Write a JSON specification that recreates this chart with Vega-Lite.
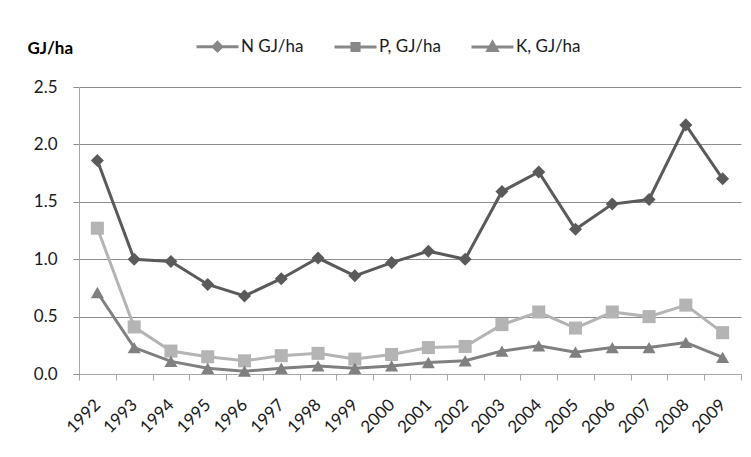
{
  "$schema": "https://vega.github.io/schema/vega-lite/v6.json",
  "width": 662,
  "height": 287,
  "autosize": "none",
  "padding": {"left": 79, "top": 87, "right": 10, "bottom": 83},
  "background": "white",
  "data": {
    "values": [
      {"year": "1992", "series": "N GJ/ha", "value": 1.86},
      {"year": "1993", "series": "N GJ/ha", "value": 1.0},
      {"year": "1994", "series": "N GJ/ha", "value": 0.98},
      {"year": "1995", "series": "N GJ/ha", "value": 0.78},
      {"year": "1996", "series": "N GJ/ha", "value": 0.68},
      {"year": "1997", "series": "N GJ/ha", "value": 0.83},
      {"year": "1998", "series": "N GJ/ha", "value": 1.01},
      {"year": "1999", "series": "N GJ/ha", "value": 0.855},
      {"year": "2000", "series": "N GJ/ha", "value": 0.97},
      {"year": "2001", "series": "N GJ/ha", "value": 1.07},
      {"year": "2002", "series": "N GJ/ha", "value": 1.0},
      {"year": "2003", "series": "N GJ/ha", "value": 1.59},
      {"year": "2004", "series": "N GJ/ha", "value": 1.76},
      {"year": "2005", "series": "N GJ/ha", "value": 1.26},
      {"year": "2006", "series": "N GJ/ha", "value": 1.48},
      {"year": "2007", "series": "N GJ/ha", "value": 1.52},
      {"year": "2008", "series": "N GJ/ha", "value": 2.17},
      {"year": "2009", "series": "N GJ/ha", "value": 1.7},
      {"year": "1992", "series": "P, GJ/ha", "value": 1.27},
      {"year": "1993", "series": "P, GJ/ha", "value": 0.41},
      {"year": "1994", "series": "P, GJ/ha", "value": 0.2},
      {"year": "1995", "series": "P, GJ/ha", "value": 0.15},
      {"year": "1996", "series": "P, GJ/ha", "value": 0.115},
      {"year": "1997", "series": "P, GJ/ha", "value": 0.16},
      {"year": "1998", "series": "P, GJ/ha", "value": 0.18},
      {"year": "1999", "series": "P, GJ/ha", "value": 0.13},
      {"year": "2000", "series": "P, GJ/ha", "value": 0.17},
      {"year": "2001", "series": "P, GJ/ha", "value": 0.23},
      {"year": "2002", "series": "P, GJ/ha", "value": 0.24},
      {"year": "2003", "series": "P, GJ/ha", "value": 0.43},
      {"year": "2004", "series": "P, GJ/ha", "value": 0.54},
      {"year": "2005", "series": "P, GJ/ha", "value": 0.4},
      {"year": "2006", "series": "P, GJ/ha", "value": 0.54},
      {"year": "2007", "series": "P, GJ/ha", "value": 0.5},
      {"year": "2008", "series": "P, GJ/ha", "value": 0.6},
      {"year": "2009", "series": "P, GJ/ha", "value": 0.36},
      {"year": "1992", "series": "K, GJ/ha", "value": 0.71},
      {"year": "1993", "series": "K, GJ/ha", "value": 0.23},
      {"year": "1994", "series": "K, GJ/ha", "value": 0.11},
      {"year": "1995", "series": "K, GJ/ha", "value": 0.05},
      {"year": "1996", "series": "K, GJ/ha", "value": 0.025},
      {"year": "1997", "series": "K, GJ/ha", "value": 0.05},
      {"year": "1998", "series": "K, GJ/ha", "value": 0.07},
      {"year": "1999", "series": "K, GJ/ha", "value": 0.05},
      {"year": "2000", "series": "K, GJ/ha", "value": 0.07},
      {"year": "2001", "series": "K, GJ/ha", "value": 0.1},
      {"year": "2002", "series": "K, GJ/ha", "value": 0.115},
      {"year": "2003", "series": "K, GJ/ha", "value": 0.2},
      {"year": "2004", "series": "K, GJ/ha", "value": 0.245},
      {"year": "2005", "series": "K, GJ/ha", "value": 0.19},
      {"year": "2006", "series": "K, GJ/ha", "value": 0.23},
      {"year": "2007", "series": "K, GJ/ha", "value": 0.23},
      {"year": "2008", "series": "K, GJ/ha", "value": 0.275},
      {"year": "2009", "series": "K, GJ/ha", "value": 0.145}
    ]
  },
  "encoding": {
    "x": {
      "field": "year",
      "type": "ordinal",
      "scale": {"type": "band", "paddingInner": 0, "paddingOuter": 0},
      "axis": {
        "title": null,
        "labelAngle": -45,
        "labelAlign": "right",
        "labelBaseline": "middle",
        "labelPadding": 22,
        "bandPosition": 0,
        "tickBand": "extent",
        "tickSize": 6,
        "grid": false,
        "labelFont": "Lato",
        "labelFontSize": 17,
        "labelColor": "#1a1a1a",
        "domainColor": "#a6a6a6",
        "tickColor": "#a6a6a6"
      }
    },
    "y": {
      "field": "value",
      "type": "quantitative",
      "scale": {"domain": [0, 2.5], "nice": false},
      "axis": {
        "values": [0, 0.5, 1, 1.5, 2, 2.5],
        "format": ".1f",
        "title": "GJ/ha",
        "titleAngle": 0,
        "titleX": -52,
        "titleY": -34,
        "titleAlign": "left",
        "titleBaseline": "alphabetic",
        "titleFont": "Lato",
        "titleFontSize": 17,
        "titleFontWeight": "bold",
        "titleColor": "#000000",
        "labelFont": "Lato",
        "labelFontSize": 17,
        "labelColor": "#1a1a1a",
        "labelPadding": 16,
        "tickSize": 6,
        "tickColor": "#8c8c8c",
        "domainColor": "#a6a6a6",
        "gridColor": "#8c8c8c",
        "gridWidth": 1
      }
    }
  },
  "layer": [
    {
      "mark": {"type": "line", "strokeWidth": 3},
      "encoding": {
        "color": {
          "field": "series",
          "type": "nominal",
          "scale": {
            "domain": ["N GJ/ha", "P, GJ/ha", "K, GJ/ha"],
            "range": ["#5a5a5a", "#b4b4b4", "#808080"]
          },
          "legend": null
        }
      }
    },
    {
      "mark": {"type": "point", "filled": true, "opacity": 1, "size": 170},
      "encoding": {
        "color": {
          "field": "series",
          "type": "nominal",
          "scale": {
            "domain": ["N GJ/ha", "P, GJ/ha", "K, GJ/ha"],
            "range": ["#5a5a5a", "#b4b4b4", "#808080"]
          },
          "legend": null
        },
        "shape": {
          "field": "series",
          "type": "nominal",
          "scale": {
            "domain": ["N GJ/ha", "P, GJ/ha", "K, GJ/ha"],
            "range": ["diamond", "square", "triangle-up"]
          },
          "legend": null
        }
      }
    },
    {
      "mark": {"type": "point", "filled": false, "opacity": 0, "strokeWidth": 3},
      "encoding": {
        "color": {
          "field": "series",
          "type": "nominal",
          "scale": {
            "domain": ["N GJ/ha", "P, GJ/ha", "K, GJ/ha"],
            "range": ["#5a5a5a", "#b4b4b4", "#808080"]
          },
          "legend": {
            "title": null,
            "orient": "none",
            "direction": "horizontal",
            "legendX": 116,
            "legendY": -63,
            "symbolSize": 1764,
            "symbolStrokeWidth": 3,
            "symbolOpacity": 1,
            "labelFont": "Lato",
            "labelFontSize": 17,
            "labelColor": "#1a1a1a",
            "labelOffset": 1,
            "columnPadding": 24,
            "padding": 0,
            "encode": {
              "symbols": {
                "stroke": {"value": {"expr": "scale('color', datum.value)"}}
              }
            }
          }
        },
        "shape": {
          "field": "series",
          "type": "nominal",
          "scale": {
            "domain": ["N GJ/ha", "P, GJ/ha", "K, GJ/ha"],
            "range": [
              "M-1,0L1,0M0,-0.2L0.2,0L0,0.2L-0.2,0ZM0,-0.1L0.1,0L0,0.1L-0.1,0Z",
              "M-1,0L1,0M-0.17,-0.17L0.17,-0.17L0.17,0.17L-0.17,0.17ZM-0.07,-0.07L0.07,-0.07L0.07,0.07L-0.07,0.07Z",
              "M-1,0L1,0M0,-0.22L0.22,0.17L-0.22,0.17ZM0,-0.08L0.08,0.07L-0.08,0.07Z"
            ]
          },
          "legend": {
            "title": null,
            "orient": "none",
            "direction": "horizontal",
            "legendX": 116,
            "legendY": -63,
            "symbolSize": 1764,
            "symbolStrokeWidth": 3,
            "symbolOpacity": 1,
            "labelFont": "Lato",
            "labelFontSize": 17,
            "labelColor": "#1a1a1a",
            "labelOffset": 1,
            "columnPadding": 24,
            "padding": 0,
            "encode": {
              "symbols": {
                "stroke": {"value": {"expr": "scale('color', datum.value)"}}
              }
            }
          }
        }
      }
    }
  ],
  "resolve": {"scale": {"shape": "independent"}},
  "config": {
    "view": {"stroke": null},
    "axis": {"domainWidth": 1, "tickWidth": 1}
  }
}
